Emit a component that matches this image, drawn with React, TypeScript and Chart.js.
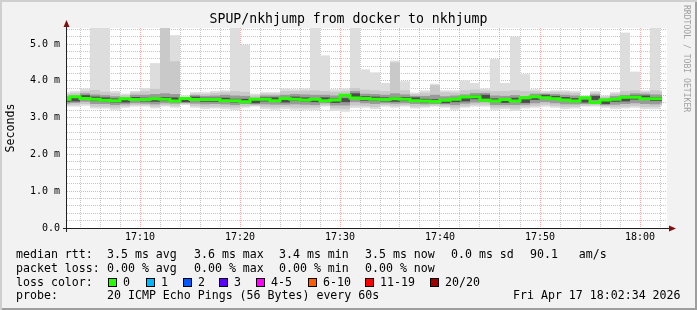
import React, { useEffect, useRef } from 'react';
import { Chart, registerables } from 'chart.js';

Chart.register(...registerables);

// ---- time axis (minutes after 17:00) ----
const FIRST_MINUTE = 2;          // first 1-minute column starts at 17:02
const X_MIN = 2.7;               // left edge of the plot
const X_MAX = 62.7;              // right edge of the plot
const X_LABEL_MINUTES = [10, 20, 30, 40, 50, 60];
const X_LABELS = ['17:10', '17:20', '17:30', '17:40', '17:50', '18:00'];

// ---- value axis (milliseconds) ----
const Y_MAX = 5.435;
const Y_LABEL_VALUES = [0, 1, 2, 3, 4, 5];
const Y_LABELS = ['0.0', '1.0 m', '2.0 m', '3.0 m', '4.0 m', '5.0 m'];

// ---- median rtt per minute (ms) ----
const MEDIAN = [3.48, 3.50, 3.57, 3.52, 3.50, 3.47, 3.46, 3.51, 3.49, 3.49,
  3.51, 3.50, 3.45, 3.52, 3.49, 3.49, 3.49, 3.46, 3.46, 3.43,
  3.50, 3.50, 3.46, 3.52, 3.50, 3.48, 3.50, 3.46, 3.48, 3.61,
  3.53, 3.52, 3.50, 3.49, 3.51, 3.50, 3.46, 3.45, 3.44, 3.47,
  3.50, 3.56, 3.57, 3.47, 3.45, 3.49, 3.45, 3.54, 3.57, 3.54,
  3.51, 3.48, 3.45, 3.54, 3.41, 3.48, 3.50, 3.55, 3.55, 3.51,
  3.51];

// ---- smoke: fastest / slowest ping ----
const PING_MIN = [3.30, 3.30, 3.32, 3.25, 3.25, 3.21, 3.27, 3.30, 3.30, 3.25,
  3.30, 3.27, 3.34, 3.27, 3.23, 3.25, 3.23, 3.21, 3.27, 3.30,
  3.23, 3.21, 3.23, 3.21, 3.21, 3.21, 3.30, 3.18, 3.16, 3.27,
  3.27, 3.23, 3.30, 3.27, 3.30, 3.25, 3.27, 3.30, 3.27, 3.21,
  3.27, 3.30, 3.30, 3.21, 3.23, 3.18, 3.25, 3.27, 3.30, 3.27,
  3.23, 3.25, 3.30, 3.30, 3.27, 3.23, 3.25, 3.27, 3.23, 3.23,
  3.30];
const PING_MAX = [3.69, 3.72, 3.79, 6.20, 6.00, 3.72, 3.65, 3.72, 3.80, 4.48,
  6.30, 5.24, 3.60, 3.69, 3.69, 3.72, 3.74, 6.10, 4.98, 3.65,
  3.69, 3.69, 3.79, 3.77, 3.79, 6.00, 4.69, 3.77, 3.79, 6.40,
  4.31, 4.23, 3.94, 4.55, 3.99, 3.68, 3.74, 3.92, 3.74, 3.74,
  4.01, 3.94, 3.79, 4.59, 3.94, 5.20, 4.18, 3.77, 3.72, 3.74,
  3.74, 3.72, 3.60, 3.72, 3.60, 3.69, 5.31, 4.25, 3.74, 6.20,
  3.74];

// ---- smoke: 2nd fastest / 2nd slowest ----
const BAND2_LO = [3.34, 3.35, 3.37, 3.30, 3.30, 3.27, 3.31, 3.34, 3.34, 3.30,
  3.34, 3.32, 3.37, 3.32, 3.29, 3.30, 3.29, 3.27, 3.31, 3.33,
  3.29, 3.27, 3.29, 3.27, 3.27, 3.27, 3.34, 3.25, 3.24, 3.33,
  3.32, 3.29, 3.34, 3.32, 3.34, 3.30, 3.31, 3.33, 3.31, 3.27,
  3.31, 3.35, 3.35, 3.27, 3.28, 3.25, 3.30, 3.32, 3.35, 3.32,
  3.29, 3.30, 3.33, 3.34, 3.31, 3.29, 3.30, 3.32, 3.29, 3.29,
  3.34];
const BAND2_HI = [3.64, 3.67, 3.72, 3.75, 3.70, 3.66, 3.61, 3.68, 3.72, 3.78,
  6.00, 4.53, 3.56, 3.65, 3.64, 3.67, 3.69, 3.72, 3.70, 3.60,
  3.65, 3.65, 3.72, 3.72, 3.73, 3.74, 3.72, 3.70, 3.72, 3.80,
  3.76, 3.74, 3.72, 4.50, 3.74, 3.64, 3.68, 3.88, 3.69, 3.68,
  3.74, 3.76, 3.73, 3.72, 3.72, 3.74, 3.72, 3.72, 3.68, 3.70,
  3.69, 3.67, 3.57, 3.68, 3.57, 3.65, 3.72, 3.74, 3.70, 3.74,
  3.70];

// ---- smoke: middle pings ----
const BAND3_LO = [3.38, 3.40, 3.43, 3.37, 3.37, 3.34, 3.36, 3.39, 3.38, 3.36,
  3.39, 3.38, 3.40, 3.38, 3.36, 3.37, 3.36, 3.34, 3.37, 3.36,
  3.36, 3.35, 3.35, 3.36, 3.35, 3.34, 3.39, 3.33, 3.33, 3.42,
  3.39, 3.37, 3.39, 3.38, 3.39, 3.37, 3.36, 3.37, 3.36, 3.34,
  3.38, 3.41, 3.42, 3.34, 3.34, 3.34, 3.35, 3.39, 3.42, 3.39,
  3.36, 3.36, 3.37, 3.40, 3.34, 3.35, 3.37, 3.39, 3.37, 3.36,
  3.39];
const BAND3_HI = [3.58, 3.60, 3.66, 3.63, 3.61, 3.58, 3.56, 3.62, 3.62, 3.64,
  3.66, 3.64, 3.52, 3.61, 3.59, 3.60, 3.62, 3.60, 3.59, 3.54,
  3.60, 3.60, 3.62, 3.64, 3.63, 3.62, 3.62, 3.60, 3.62, 3.72,
  3.65, 3.64, 3.62, 3.66, 3.63, 3.59, 3.59, 3.62, 3.58, 3.60,
  3.63, 3.67, 3.67, 3.60, 3.59, 3.61, 3.58, 3.65, 3.65, 3.64,
  3.62, 3.60, 3.53, 3.63, 3.52, 3.59, 3.62, 3.66, 3.65, 3.63,
  3.62];

// ---- smoke: pings next to the median ----
const BAND4_LO = [3.43, 3.44, 3.50, 3.45, 3.44, 3.41, 3.41, 3.45, 3.44, 3.43,
  3.45, 3.44, 3.42, 3.45, 3.43, 3.43, 3.43, 3.41, 3.41, 3.39,
  3.44, 3.44, 3.41, 3.45, 3.44, 3.42, 3.44, 3.40, 3.42, 3.52,
  3.46, 3.45, 3.44, 3.43, 3.45, 3.44, 3.41, 3.40, 3.39, 3.42,
  3.44, 3.50, 3.51, 3.42, 3.40, 3.43, 3.40, 3.48, 3.51, 3.48,
  3.45, 3.43, 3.41, 3.48, 3.37, 3.43, 3.44, 3.49, 3.49, 3.45,
  3.45];
const BAND4_HI = [3.52, 3.54, 3.61, 3.57, 3.55, 3.52, 3.51, 3.56, 3.54, 3.54,
  3.56, 3.55, 3.49, 3.57, 3.54, 3.54, 3.54, 3.51, 3.51, 3.48,
  3.55, 3.55, 3.52, 3.57, 3.55, 3.53, 3.55, 3.52, 3.53, 3.66,
  3.58, 3.57, 3.55, 3.55, 3.56, 3.55, 3.51, 3.50, 3.49, 3.52,
  3.55, 3.61, 3.62, 3.52, 3.50, 3.54, 3.50, 3.59, 3.62, 3.59,
  3.56, 3.53, 3.49, 3.59, 3.46, 3.53, 3.55, 3.60, 3.60, 3.56,
  3.56];

// ---- legend text ----
const STAT_LINE1: [string, number][] = [['median rtt:', 16], ['3.5 ms avg', 107], ['3.6 ms max', 194], ['3.4 ms min', 279], ['3.5 ms now', 365], ['0.0 ms sd', 451], ['90.1   am/s', 530]];
const STAT_LINE2: [string, number][] = [['packet loss:', 16], ['0.00 % avg', 107], ['0.00 % max', 194], ['0.00 % min', 279], ['0.00 % now', 365]];
const STAT_LINE4: [string, number][] = [['probe:', 16], ['20 ICMP Echo Pings (56 Bytes) every 60s', 107], ['Fri Apr 17 18:02:34 2026', 513]];
const LOSS_LABELS = ['0', '1', '2', '3', '4-5', '6-10', '11-19', '20/20'];
const LOSS_COLORS = ['#26ff00', '#00b8ff', '#0059ff', '#5e00ff', '#ff00ff', '#ff5e00', '#ff0000', '#a10000'];
const LOSS_X = [108, 146, 183, 219, 256, 308, 365, 430];

const MONO = '"DejaVu Sans Mono", monospace';
const GRID_MINOR = 'rgba(140,140,140,0.5)';
const GRID_MAJOR = 'rgba(255,0,0,0.35)';

const isWhole = (v: number) => Math.abs(v - Math.round(v)) < 1e-6;

const colCenters = MEDIAN.map((_, i) => FIRST_MINUTE + i + 0.5);
const band = (lo: number[], hi: number[]) => colCenters.map((x, i) => ({ x, y: [lo[i], hi[i]] }));
const medianPoints = MEDIAN.map((v, i) => ({ x: FIRST_MINUTE + i, y: v }));
medianPoints.push({ x: FIRST_MINUTE + MEDIAN.length, y: MEDIAN[MEDIAN.length - 1] });

const DATA_CLIP = { left: 0, top: 0, right: -5, bottom: 0 };

const barDefaults = {
  type: 'bar' as const,
  grouped: false,
  barPercentage: 1,
  categoryPercentage: 1,
  borderWidth: 0,
  inflateAmount: 0,
  clip: DATA_CLIP,
};

const framePlugin = {
  id: 'rrdFrame',
  beforeDraw(chart: any) {
    const { ctx, chartArea: a } = chart;
    ctx.save();
    ctx.fillStyle = '#ffffff';
    ctx.fillRect(a.left, a.top, a.right - a.left, a.bottom - a.top);
    ctx.restore();
  },
  afterDraw(chart: any) {
    const { ctx, chartArea: a } = chart;
    const x0 = Math.round(a.left) - 1;
    const y0 = Math.round(a.bottom);
    ctx.save();
    ctx.fillStyle = '#202020';
    ctx.fillRect(x0 - 3, y0, a.right - a.left + 6, 1);
    ctx.fillRect(x0, a.top - 2, 1, y0 - a.top + 6);
    ctx.fillStyle = '#7f1010';
    ctx.beginPath();
    ctx.moveTo(x0 + 0.5, a.top - 8);
    ctx.lineTo(x0 - 2.5, a.top - 1);
    ctx.lineTo(x0 + 3.5, a.top - 1);
    ctx.closePath();
    ctx.fill();
    const xr = Math.round(a.right) + 2;
    ctx.beginPath();
    ctx.moveTo(xr + 7, y0 + 0.5);
    ctx.lineTo(xr, y0 - 2.5);
    ctx.lineTo(xr, y0 + 3.5);
    ctx.closePath();
    ctx.fill();
    ctx.restore();
  },
};

function Text({ text, x, top, size = 11.6, lh = 14 }: { text: string; x: number; top: number; size?: number; lh?: number }) {
  return (
    <div style={{ position: 'absolute', left: x, top, fontFamily: MONO, fontSize: size, lineHeight: lh + 'px', whiteSpace: 'pre', color: '#000' }}>{text}</div>
  );
}

export default function App() {
  const ref = useRef<HTMLCanvasElement>(null);

  useEffect(() => {
    const chart = new Chart(ref.current as HTMLCanvasElement, {
      type: 'bar',
      data: {
        datasets: [
          {
            type: 'line',
            label: 'median',
            data: medianPoints,
            borderColor: LOSS_COLORS[0],
            borderWidth: 3,
            stepped: 'after',
            pointRadius: 0,
            fill: false,
            clip: DATA_CLIP,
            order: 0,
          } as any,
          { ...barDefaults, label: 'smoke4', data: band(BAND4_LO, BAND4_HI), backgroundColor: '#4d4d4d', order: 1 },
          { ...barDefaults, label: 'smoke3', data: band(BAND3_LO, BAND3_HI), backgroundColor: '#9a9a9a', order: 2 },
          { ...barDefaults, label: 'smoke2', data: band(BAND2_LO, BAND2_HI), backgroundColor: '#c9c9c9', order: 3 },
          { ...barDefaults, label: 'smoke1', data: band(PING_MIN, PING_MAX), backgroundColor: '#dddddd', order: 4 },
        ] as any,
      },
      options: {
        responsive: false,
        animation: false,
        devicePixelRatio: 1,
        events: [],
        layout: { padding: { left: 0, top: 28, right: 30, bottom: 0 } },
        plugins: { legend: { display: false }, tooltip: { enabled: false }, title: { display: false } },
        scales: {
          x: {
            type: 'linear',
            min: X_MIN,
            max: X_MAX,
            offset: false,
            z: 1,
            afterBuildTicks: (s: any) => {
              const t = [];
              for (let m = 4; m < X_MAX; m += 2) t.push({ value: m });
              s.ticks = t;
            },
            afterFit: (s: any) => { s.height = 82; s.paddingLeft = 0; s.paddingRight = 0; },
            grid: {
              offset: false,
              drawTicks: false,
              lineWidth: 1,
              color: (c: any) => (c.tick && Math.round(c.tick.value) % 10 === 0 ? GRID_MAJOR : GRID_MINOR),
            },
            border: { display: false, dash: [1, 1] },
            ticks: {
              autoSkip: false,
              maxRotation: 0,
              padding: 3,
              color: '#000',
              font: { family: 'DejaVu Sans Mono', size: 10 },
              callback: (v: any) => {
                const i = X_LABEL_MINUTES.indexOf(Math.round(Number(v)));
                return i >= 0 && isWhole(Number(v)) ? X_LABELS[i] : '';
              },
            },
          },
          y: {
            type: 'linear',
            min: 0,
            max: Y_MAX,
            stacked: false,
            z: 1,
            afterBuildTicks: (s: any) => {
              const t = [];
              for (let i = 0; i * 0.2 < Y_MAX; i++) t.push({ value: Math.round(i * 2) / 10 });
              s.ticks = t;
            },
            afterFit: (s: any) => { s.width = 67; s.paddingTop = 0; s.paddingBottom = 0; },
            grid: {
              drawTicks: false,
              lineWidth: 1,
              color: (c: any) => (c.tick && isWhole(c.tick.value) ? GRID_MAJOR : GRID_MINOR),
            },
            border: { display: false, dash: [1, 1] },
            ticks: {
              autoSkip: false,
              padding: 7,
              color: '#000',
              font: { family: 'DejaVu Sans Mono', size: 10 },
              callback: (v: any) => {
                const n = Number(v);
                const i = Y_LABEL_VALUES.indexOf(Math.round(n));
                return i >= 0 && isWhole(n) ? Y_LABELS[i] : '';
              },
            },
            title: {
              display: true,
              text: 'Seconds',
              color: '#000',
              padding: { top: 4, bottom: 0 },
              font: { family: 'DejaVu Sans Mono', size: 11.6 },
            },
          },
        },
      } as any,
      plugins: [framePlugin],
    });
    return () => chart.destroy();
  }, []);

  const lineTops = [247.4, 260.8, 274.5, 288.2];

  return (
    <div
      style={{
        position: 'fixed', left: 0, top: 0, width: 697, height: 310, overflow: 'hidden',
        background: '#f2f2f2',
        boxShadow: 'inset 2px 2px 0 #cfcfcf, inset -2px -2px 0 #9e9e9e',
      }}
    >
      <canvas ref={ref} width={697} height={310} style={{ position: 'absolute', left: 0, top: 0 }} />
      <div style={{ position: 'absolute', left: 0, top: 11, width: 697, textAlign: 'center', fontFamily: MONO, fontSize: 13.2, lineHeight: '16px', color: '#000', whiteSpace: 'pre' }}>
        SPUP/nkhjump from docker to nkhjump
      </div>
      <div style={{ position: 'absolute', left: 682, top: 5, writingMode: 'vertical-rl', fontFamily: MONO, fontSize: 8.1, lineHeight: '10px', color: '#a0a0a0', whiteSpace: 'pre' }}>
        RRDTOOL / TOBI OETIKER
      </div>
      {STAT_LINE1.map(([t, x]) => <Text key={'a' + x} text={t} x={x} top={lineTops[0]} />)}
      {STAT_LINE2.map(([t, x]) => <Text key={'b' + x} text={t} x={x} top={lineTops[1]} />)}
      <Text text="loss color:" x={16} top={lineTops[2]} />
      {LOSS_LABELS.map((lab, i) => (
        <React.Fragment key={lab}>
          <div style={{ position: 'absolute', left: LOSS_X[i], top: 278, width: 7, height: 7, background: LOSS_COLORS[i], border: '1px solid #000' }} />
          <Text text={lab} x={LOSS_X[i] + 15} top={lineTops[2]} />
        </React.Fragment>
      ))}
      {STAT_LINE4.map(([t, x]) => <Text key={'d' + x} text={t} x={x} top={lineTops[3]} />)}
    </div>
  );
}
